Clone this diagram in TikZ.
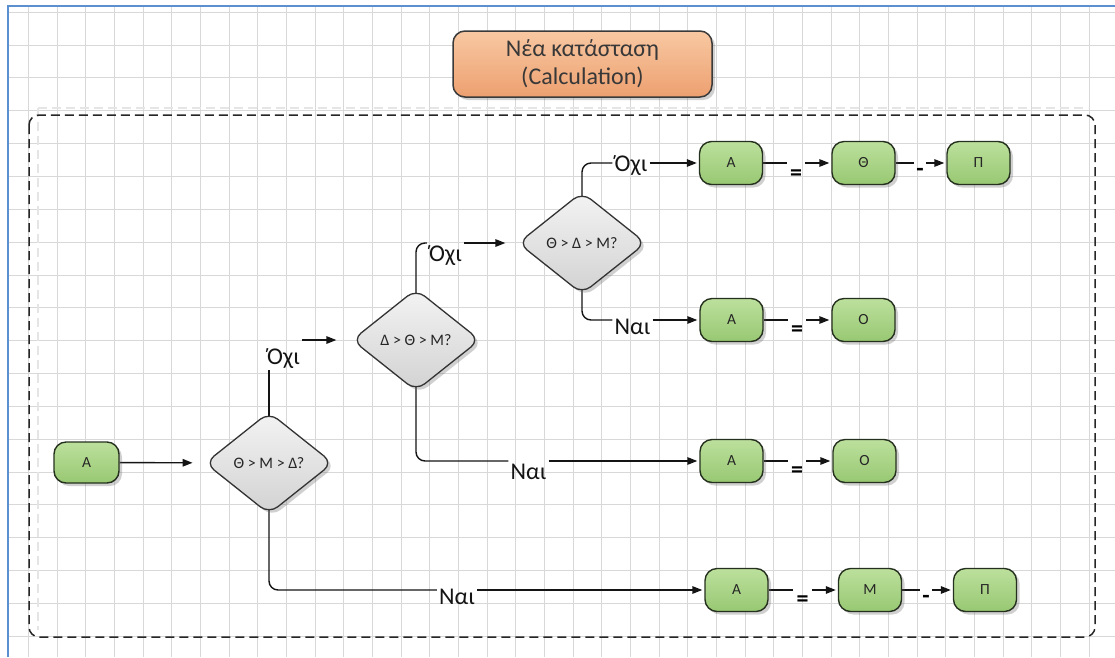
\documentclass[tikz,border=0pt]{standalone}
\usepackage{fontspec}
\setmainfont{Carlito}
\usetikzlibrary{shapes.geometric,arrows.meta,shadows}

\pgfdeclarelayer{background}
\pgfsetlayers{background,main}

\definecolor{gridline}{HTML}{D8D8D8}
\definecolor{winblue}{HTML}{5B8FD0}
\definecolor{gtop}{HTML}{BCE09C}
\definecolor{gbot}{HTML}{98C873}
\definecolor{gedge}{HTML}{26301E}
\definecolor{dtop}{HTML}{F3F3F3}
\definecolor{dbot}{HTML}{D2D2D2}
\definecolor{dedge}{HTML}{333333}
\definecolor{otop}{HTML}{F8C8A2}
\definecolor{obot}{HTML}{EDA070}
\definecolor{oedge}{HTML}{3A3A3A}
\definecolor{ink}{HTML}{262626}

\tikzset{
  gridstroke/.style={draw=gridline, line width=0.9pt},
  shade3/.style={drop shadow={shadow xshift=3pt, shadow yshift=-3pt, opacity=0.3, fill=black!60}},
  gbox/.style={draw=gedge, line width=1.4pt, rounded corners=12pt,
    top color=gtop, bottom color=gbot, minimum width=63pt, minimum height=43pt,
    inner sep=0pt, text=ink, font=\fontsize{15.5}{15.5}\selectfont, shade3},
  dbox/.style={diamond, draw=dedge, line width=1.3pt, rounded corners=11pt,
    top color=dtop, bottom color=dbot, minimum width=128pt, minimum height=102pt,
    inner sep=0pt, text=ink, font=\fontsize{16}{16}\selectfont, shade3},
  titlebox/.style={draw=oedge, line width=1.5pt, rounded corners=12pt,
    top color=otop, bottom color=obot, minimum width=259pt, minimum height=66pt,
    align=center, text=black!78, font=\fontsize{24}{28}\selectfont, shade3},
  lbl/.style={inner sep=2pt, anchor=base, text=black!92, font=\fontsize{24}{24}\selectfont},
  oplbl/.style={inner ysep=3pt, inner xsep=3pt, text=black, font=\bfseries\fontsize{24}{24}\selectfont},
  link/.style={draw=black!92, line width=1.4pt},
  arr/.style={link, -{Triangle[length=10pt,width=7.5pt]}, shorten >=2pt},
  elbow/.style={link, rounded corners=9pt},
}

\begin{document}
\begin{tikzpicture}[x=1pt,y=-1pt]
\useasboundingbox (0,0) rectangle (1115,657);

\begin{pgfonlayer}{background}
\fill[white] (0,0) rectangle (1115,657);
% background grid inside the window frame
\begin{scope}
  \clip (9,7) rectangle (1115,657);
  \foreach \k in {1,...,38}
    \draw[gridstroke] ({-0.33+28.67*\k},7) -- ++(0,650);
  \foreach \k in {0,...,19}
    \draw[gridstroke] (9,{12.15+32.85*\k}) -- ++(1106,0);
\end{scope}
\draw[winblue, line width=2pt] (8,657) -- (8,6) -- (1115,6);

% dashed container with its faint outline
\draw[black!10, line width=1.1pt, dash pattern=on 9pt off 5pt] (38,108) -- (1088,108);
\draw[black!10, line width=1.1pt, dash pattern=on 9pt off 5pt] (38,108) -- (38,630);
\draw[black!85, line width=1.5pt, dash pattern=on 9pt off 5pt, rounded corners=10pt]
  (29,115) rectangle (1095,637);
\end{pgfonlayer}

% title
\node[titlebox] (title) at (582.5,64) {Νέα κατάσταση\\(Calculation)};

% decision diamonds
\node[dbox] (d1) at (269,463) {Θ > Μ > Δ?};
\node[dbox] (d2) at (416,340) {Δ > Θ > Μ?};
\node[dbox] (d3) at (582,243) {Θ > Δ > Μ?};

% value boxes
\node[gbox, minimum width=65pt, minimum height=41pt] (a0) at (86.5,462.5) {Α};
\node[gbox] (a1) at (731,163) {Α};
\node[gbox] (t1) at (863.5,163) {Θ};
\node[gbox] (p1) at (978.5,163) {Π};
\node[gbox] (a2) at (731.5,320) {Α};
\node[gbox] (o2) at (863.5,320) {Ο};
\node[gbox] (a3) at (731.5,461) {Α};
\node[gbox] (o3) at (864.5,461) {Ο};
\node[gbox] (a4) at (736.5,590) {Α};
\node[gbox] (m4) at (870,590) {Μ};
\node[gbox] (p4) at (985,590) {Π};

% branch labels (placed by baseline)
\node[lbl] (n1) at (283.5,364) {Όχι};
\node[lbl] (n2) at (445.5,261) {Όχι};
\node[lbl] (n3) at (631,171) {Όχι};
\node[lbl] (n4) at (632.5,334) {Ναι};
\node[lbl] (n5) at (528.5,479) {Ναι};
\node[lbl] (n6) at (457,604.5) {Ναι};

% operator labels
\node[oplbl] (e1) at (796,175) {=};
\node[oplbl, inner xsep=2pt] (s1) at (920,172) {-};
\node[oplbl] (e2) at (797,331) {=};
\node[oplbl] (e3) at (797,472) {=};
\node[oplbl] (e4) at (802.5,601) {=};
\node[oplbl, inner xsep=2pt] (s4) at (926,599) {-};

\begin{pgfonlayer}{background}
% start
\draw[arr, shorten >=12pt] (a0) -- (d1);

% first decision
\draw[link] (d1.center) -- (d1.center |- n1.south);
\draw[arr, shorten >=15pt] (n1.east |- d2.west) -- (d2.west);
\draw[elbow] (d1.center) |- (n6.west |- a4.west);
\draw[arr] (n6.east |- a4.west) -- (a4.west);

% second decision
\draw[elbow] (d2.center) |- (n2.west |- d3.west);
\draw[arr, shorten >=12pt] (n2.east |- d3.west) -- (d3.west);
\draw[elbow] (d2.center) |- (n5.west |- a3.west);
\draw[arr] (n5.east |- a3.west) -- (a3.west);

% third decision
\draw[elbow] (d3.center) |- (n3.west |- a1.west);
\draw[arr] (n3.east |- a1.west) -- (a1.west);
\draw[elbow] (d3.center) |- (n4.west |- a2.west);
\draw[arr] (n4.east |- a2.west) -- (a2.west);

% operator chains
\draw[link] (a1.east) -- (a1.east -| e1.west);
\draw[arr] (e1.east |- a1.east) -- (t1.west);
\draw[link] (t1.east) -- (t1.east -| s1.west);
\draw[arr] (s1.east |- t1.east) -- (p1.west);

\draw[link] (a2.east) -- (a2.east -| e2.west);
\draw[arr] (e2.east |- a2.east) -- (o2.west);

\draw[link] (a3.east) -- (a3.east -| e3.west);
\draw[arr] (e3.east |- a3.east) -- (o3.west);

\draw[link] (a4.east) -- (a4.east -| e4.west);
\draw[arr] (e4.east |- a4.east) -- (m4.west);
\draw[link] (m4.east) -- (m4.east -| s4.west);
\draw[arr] (s4.east |- m4.east) -- (p4.west);
\end{pgfonlayer}
\end{tikzpicture}
\end{document}
